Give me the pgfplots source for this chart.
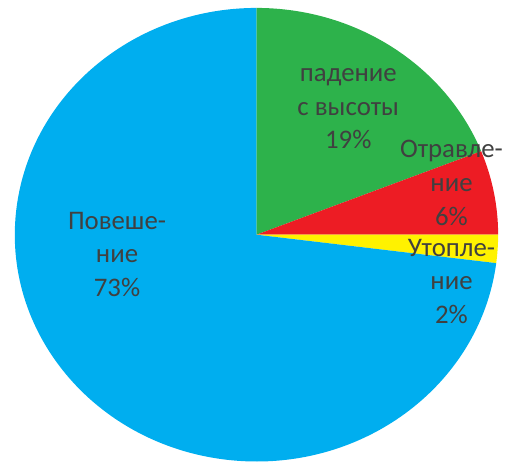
\documentclass[border=0pt]{standalone}
\usepackage{pgfplots}
\pgfplotsset{compat=1.18}
\usepackage{pgfplotstable}
\usepackage{fontspec}
\setmainfont{Carlito}

\definecolor{slice0}{HTML}{2DB24B}
\definecolor{slice1}{HTML}{ED1C24}
\definecolor{slice2}{HTML}{FFF200}
\definecolor{slice3}{HTML}{00AEEF}
\definecolor{lbl}{HTML}{404040}

% shares, clockwise from 12 o'clock
\pgfplotstableread{
pct
19
6
2
73
}\piedata

% label: x, first baseline (from top), three lines
\newcommand{\pielabel}[5]{%
  \node[anchor=base,text=lbl] at (axis cs:#1,{466-#2}) {#3};
  \node[anchor=base,text=lbl] at (axis cs:#1,{466-#2-34}) {#4};
  \node[anchor=base,text=lbl] at (axis cs:#1,{466-#2-68}) {#5};
}

\begin{document}
\begin{tikzpicture}
  \fontsize{27}{34}\selectfont
  \begin{axis}[
    scale only axis,
    width=515pt, height=466pt,
    xmin=0, xmax=515, ymin=0, ymax=466,
    hide axis, clip=false
    ]
    \path (axis cs:0,0) rectangle (axis cs:515,466);
    %%% pie centre and radii (pt)
    \def\cx{254.5}
    \def\cy{229.5}
    \def\rx{243.5}
    \def\ry{228.5}
    \def\cum{0}
    \pgfplotsforeachungrouped \i in {0,...,3}{
      \pgfplotstablegetelem{\i}{pct}\of\piedata
      \pgfmathsetmacro\a{90-3.6*\cum}
      \pgfmathsetmacro\b{90-3.6*(\cum+\pgfplotsretval)}
      \pgfmathsetmacro\px{\cx+\rx*cos(\a)}
      \pgfmathsetmacro\py{\cy+\ry*sin(\a)}
      \pgfmathsetmacro\cum{\cum+\pgfplotsretval}
      \xdef\cum{\cum}
      \edef\temp{\noexpand\fill[slice\i] (axis cs:\cx,\cy) -- (axis cs:\px,\py)
        arc[start angle=\a, end angle=\b, x radius=\rx, y radius=\ry] -- cycle;}
      \temp
    }
    \pielabel{347}{82}{падение}{с высоты}{19\%}
    \pielabel{451}{159}{Отравле-}{ние}{6\%}
    \pielabel{451}{258}{Утопле-}{ние}{2\%}
    \pielabel{114}{231}{Повеше-}{ние}{73\%}
  \end{axis}
\end{tikzpicture}
\end{document}
